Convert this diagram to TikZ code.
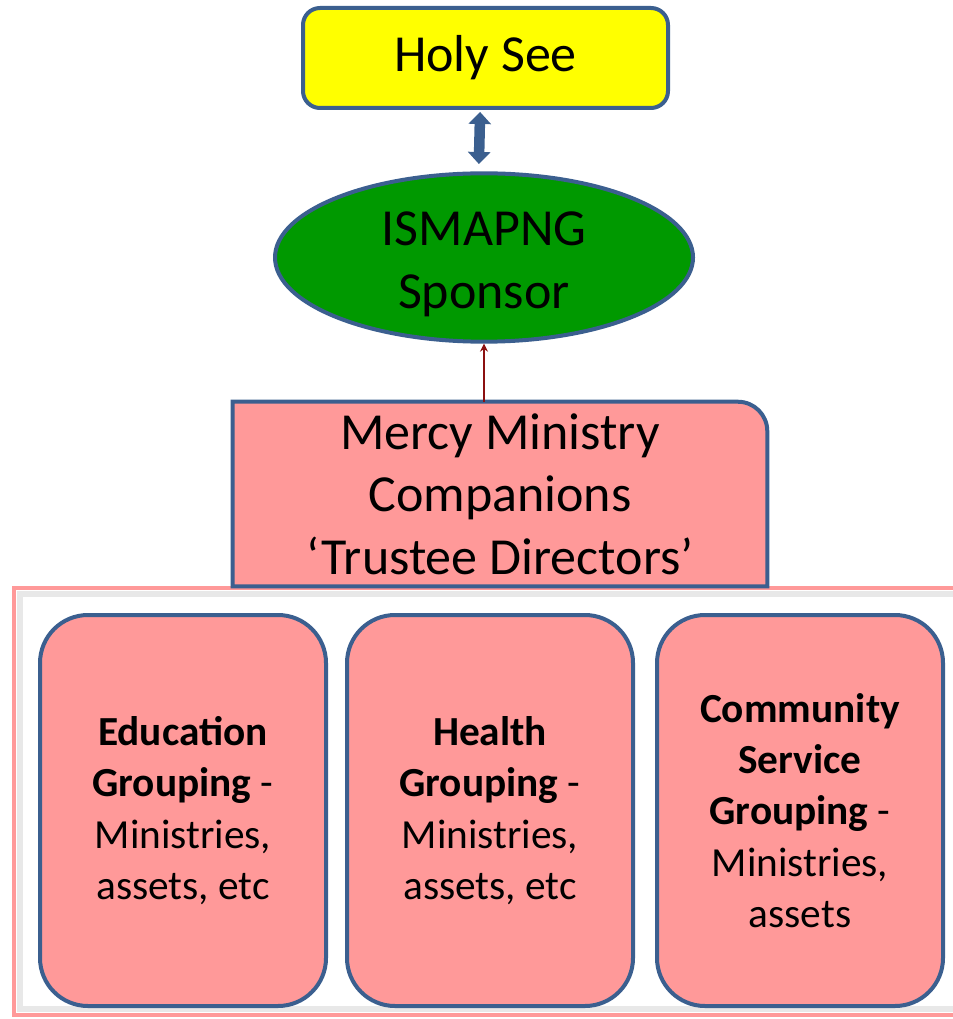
\documentclass[tikz,border=0pt]{standalone}
\usepackage{fontspec}
\setmainfont{Carlito}
\usepackage{xcolor}
\usetikzlibrary{arrows.meta, positioning, shapes.geometric, backgrounds}

\definecolor{boxblue}{HTML}{3B5F8F}
\definecolor{seeyellow}{HTML}{FFFF00}
\definecolor{sponsorgreen}{HTML}{009900}
\definecolor{mercypink}{HTML}{FF9999}
\definecolor{redline}{HTML}{8B1010}

\begin{document}
\begin{tikzpicture}[x=0.75pt, y=-0.75pt,
  box/.style={draw=boxblue, line width=3pt, align=center, inner sep=0pt},
  big/.style={font=\fontsize{39}{47}\selectfont},
  small/.style={font=\fontsize{31}{38.5}\selectfont},
  group/.style={box, small, fill=mercypink, rounded corners=36pt, minimum width=214.5pt, minimum height=293.25pt}]

 \useasboundingbox (0,0) rectangle (952,1019);

 % Nodes
 \node[box, big, fill=seeyellow, rounded corners=12.75pt, minimum width=273.75pt, minimum height=75pt] (holy) at (485.5,58) {Holy See};
 \node[box, big, ellipse, fill=sponsorgreen, minimum width=313.5pt, minimum height=113.25pt] (sponsor) at (484,257.5) {\rule{0pt}{36pt}ISMAPNG\\Sponsor};
 \node[big, align=center, inner sep=0pt, minimum width=400.5pt, minimum height=138pt] (mercy) at (500,494) {Mercy Ministry\\Companions\\‘Trustee Directors’};

 % Groupings
 \node[group] (edu) at (183,810.5) {\textbf{Education}\\\textbf{Grouping} -\\Ministries,\\assets, etc};
 \node[group] (health) at (490,810.5) {\textbf{Health}\\\textbf{Grouping} -\\Ministries,\\assets, etc};
 \node[group] (comm) at (800,810.5) {\textbf{Community}\\\textbf{Service}\\\textbf{Grouping} -\\Ministries,\\assets};

 % Frame and trustee box behind the nodes
 \begin{scope}[on background layer]
  \draw[gray!18, line width=5pt] (20,594) rectangle (990,1009);
  \draw[mercypink, line width=3pt] (14,588) rectangle (990,1015);
  \draw[draw=boxblue, fill=mercypink, line width=3pt] (mercy.south west) -- (mercy.north west) -- ([xshift=-22pt]mercy.north east) arc[start angle=90, end angle=0, radius=22pt] -- (mercy.south east) -- cycle;
 \end{scope}

 % Arrows
 \draw[{Triangle[width=16.5pt,length=9pt]}-{Triangle[width=16.5pt,length=9pt]}, boxblue, line width=7.9pt, shorten <=1.5pt, shorten >=5.5pt] ([xshift=-4pt]holy.south) -- ([xshift=-4pt]sponsor.north);
 \draw[-{Stealth[length=6pt, width=6pt]}, redline, line width=2.2pt] (mercy.north -| sponsor.south) -- (sponsor.south);

\end{tikzpicture}
\end{document}
